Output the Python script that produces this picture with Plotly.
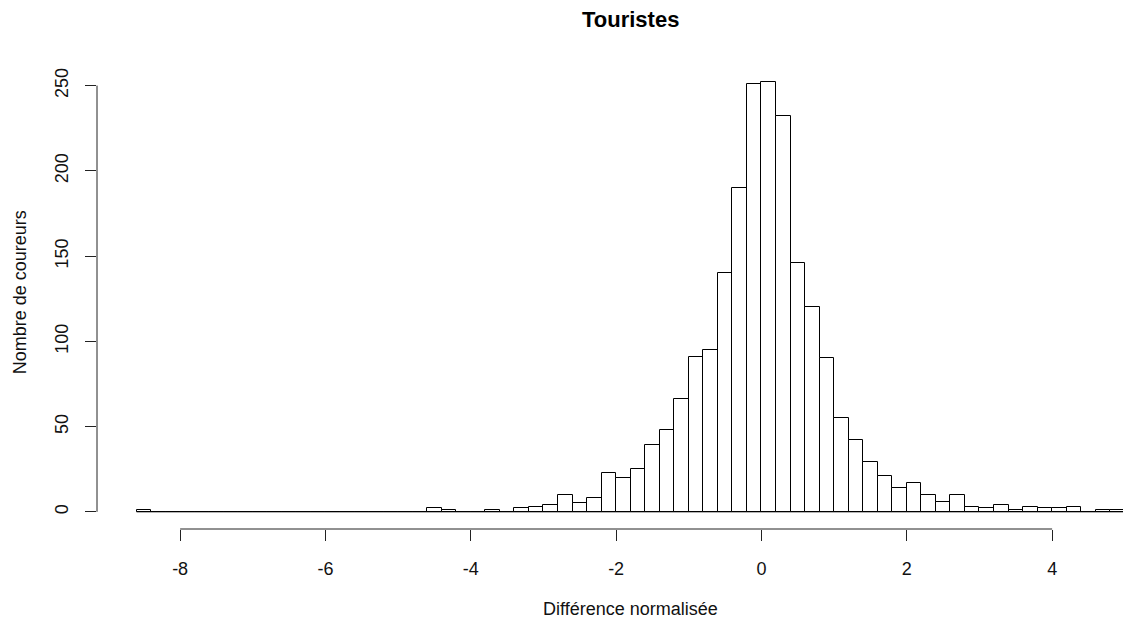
import numpy as np
import plotly.graph_objects as go

# ---- data (histogram of normalised differences, bin width 0.2) ----
bin_start = -8.6
bin_width = 0.2
counts = [
    1,                                   # -8.6
    0, 0, 0, 0, 0, 0, 0, 0, 0, 0,        # -8.4 .. -6.6
    0, 0, 0, 0, 0, 0, 0, 0, 0,           # -6.4 .. -4.8
    2, 1, 0, 0, 1, 0,                    # -4.6 .. -3.6
    2, 3, 4, 10, 5, 8,                   # -3.4 .. -2.4
    23, 20, 25, 39, 48, 66, 91, 95,      # -2.2 .. -0.8
    140, 190, 251, 252, 232, 146, 120,   # -0.6 .. 0.6
    90, 55, 42, 29, 21, 14, 17, 10,      # 0.8 .. 2.2
    6, 10, 3, 2, 4, 1, 3, 2, 2, 3,       # 2.4 .. 4.2
    0, 1, 1,                             # 4.4 .. 4.8
]
x_ticks = [-8, -6, -4, -2, 0, 2, 4]
y_ticks = [0, 50, 100, 150, 200, 250]
title = "Touristes"
x_label = "Différence normalisée"
y_label = "Nombre de coureurs"

n = len(counts)
edges = bin_start + bin_width * np.arange(n + 1)
centers = (edges[:-1] + edges[1:]) / 2

# R-like limits: range extended by 4 %
x_lo, x_hi = edges[0], edges[-1]
x_pad = 0.04 * (x_hi - x_lo)
y_hi = max(counts)
y_pad = 0.04 * y_hi

W, H = 1123, 625
ml, mr, mt, mb = 97, 0, 65, 96
px_per_unit = (W - ml - mr) / ((x_hi + x_pad) - (x_lo - x_pad)) if False else 72.667
x_range = [x_lo - x_pad, x_lo - x_pad + (W - ml - mr) / px_per_unit]
x_mid = (x_lo + x_hi) / 2  # centre of the R plot region

font = "Liberation Sans, Arial, sans-serif"

fig = go.Figure()
fig.add_trace(go.Scatter(
    x=[edges[0], edges[-1]], y=[0, 0], mode="lines",
    line=dict(color="black", width=1), hoverinfo="skip", showlegend=False,
))
fig.add_trace(go.Bar(
    x=centers, y=counts, width=bin_width,
    marker=dict(color="white", line=dict(color="black", width=1)),
    showlegend=False,
))

fig.update_layout(
    width=W, height=H,
    margin=dict(l=ml, r=mr, t=mt, b=mb),
    plot_bgcolor="white", paper_bgcolor="white",
    font=dict(family=font, size=18, color="black"),
    bargap=0,
    showlegend=False,
    xaxis=dict(
        range=x_range, tickvals=x_ticks, ticktext=[str(v).replace("-", "-") for v in x_ticks],
        ticks="outside", ticklen=11, tickwidth=1, tickcolor="#222",
        showgrid=False, zeroline=False, showline=False,
        ticklabelstandoff=12,
        tickfont=dict(family=font, size=18, color="#111"),
    ),
    yaxis=dict(
        range=[-y_pad, y_hi + y_pad], tickvals=y_ticks,
        ticks="outside", ticklen=11, tickwidth=1, tickcolor="#222",
        showgrid=False, zeroline=False, showline=False,
        tickangle=-90, ticklabelstandoff=10,
        tickfont=dict(family=font, size=18, color="#111"),
    ),
    shapes=[
        dict(type="line", xref="x", yref="paper", x0=min(x_ticks), x1=max(x_ticks),
             y0=0, y1=0, line=dict(color="#222", width=1)),
        dict(type="line", xref="paper", yref="y", x0=0, x1=0,
             y0=min(y_ticks), y1=max(y_ticks), line=dict(color="#222", width=1)),
    ],
    annotations=[
        dict(text="<b>" + title + "</b>", xref="x", yref="paper", x=x_mid,
             y=(H - mb - 19) / (H - mt - mb), xanchor="center", yanchor="middle",
             showarrow=False, font=dict(family=font, size=22, color="black")),
        dict(text=x_label, xref="x", yref="paper", x=x_mid,
             y=-(609 - (H - mb)) / (H - mt - mb), xanchor="center", yanchor="middle",
             showarrow=False, font=dict(family=font, size=18, color="#111")),
        dict(text=y_label, xref="paper", yref="paper", x=(20 - ml) / (W - ml - mr),
             y=0.51, xanchor="center", yanchor="middle", textangle=-90,
             showarrow=False, font=dict(family=font, size=18, color="#111")),
    ],
)

fig.write_html("out.html")
